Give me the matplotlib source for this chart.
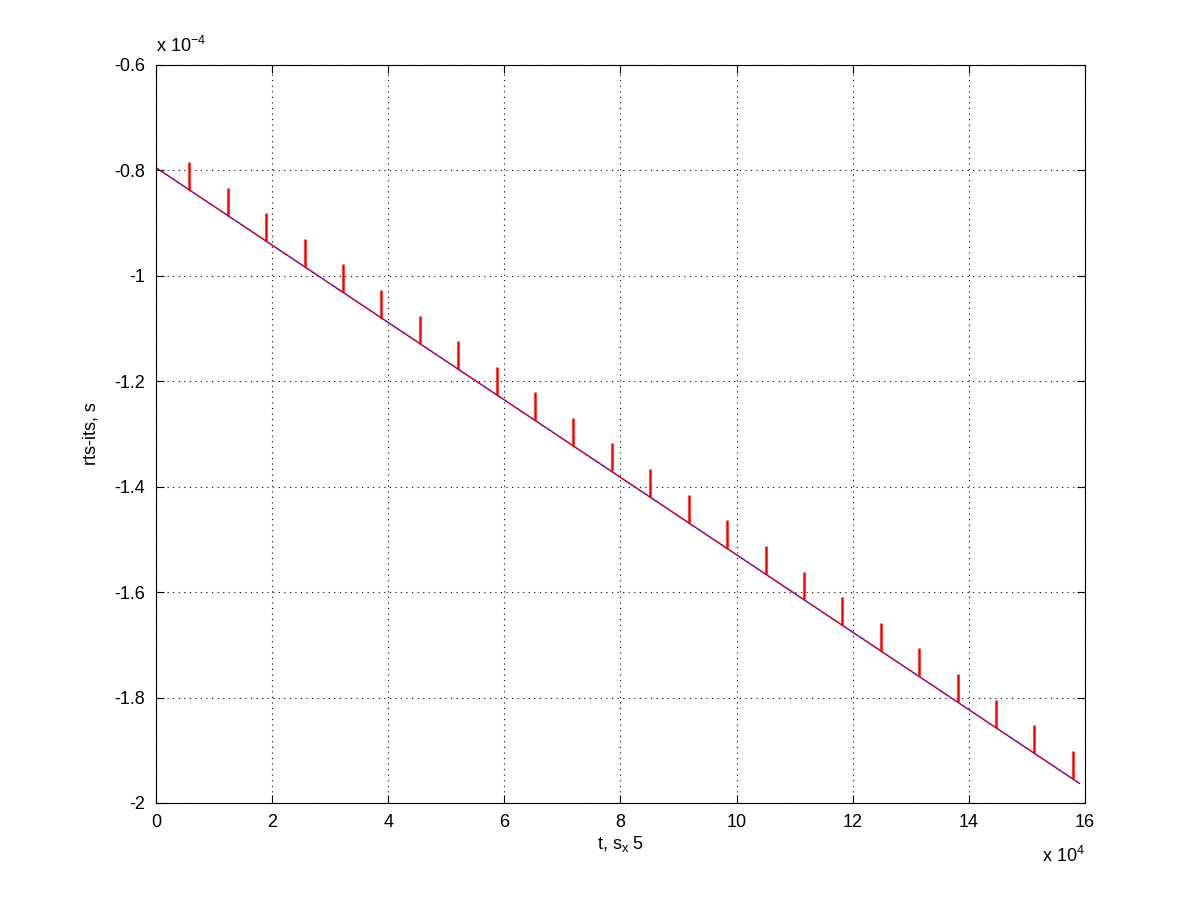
import matplotlib
matplotlib.use('Agg')
import matplotlib.pyplot as plt
import numpy as np

plt.rcParams['font.family'] = ['Liberation Sans', 'DejaVu Sans']

# time axis in units of 1e4, offsets in units of 1e-4 s
line_t = [0.0, 15.91]
line_val = [-0.795, -1.963]

spike_t = [0.574, 1.236, 1.897, 2.559, 3.221, 3.883, 4.544, 5.206, 5.868, 6.529,
           7.191, 7.853, 8.514, 9.176, 9.838, 10.50, 11.16, 11.82, 12.49, 13.15,
           13.81, 14.47, 15.13, 15.80]
spike_base = [-0.837, -0.886, -0.934, -0.983, -1.031, -1.080, -1.129, -1.177,
              -1.226, -1.274, -1.323, -1.371, -1.420, -1.469, -1.517, -1.566,
              -1.614, -1.663, -1.712, -1.760, -1.809, -1.857, -1.906, -1.955]
spike_top = [-0.784, -0.833, -0.881, -0.930, -0.978, -1.027, -1.076, -1.124,
             -1.173, -1.221, -1.270, -1.318, -1.367, -1.416, -1.464, -1.513,
             -1.561, -1.610, -1.659, -1.707, -1.756, -1.804, -1.853, -1.902]

xticks = np.arange(0, 17, 2)
yticks = [-2, -1.8, -1.6, -1.4, -1.2, -1, -0.8, -0.6]
ytick_labels = ['-2', '-1.8', '-1.6', '-1.4', '-1.2', '-1', '-0.8', '-0.6']

fig = plt.figure(figsize=(12, 9.01), dpi=100)
ax = fig.add_axes([0.13, 0.1088, 0.774, 0.8192])

ax.plot(line_t, line_val, color='blue', lw=0.9)
ax.plot(line_t, line_val, color='red', lw=0.9, dashes=(3, 1))
ax.vlines(spike_t, spike_base, spike_top, color='red', lw=1.8)

ax.set_xlim(0, 16)
ax.set_ylim(-2, -0.6)
ax.set_xticks(xticks)
ax.set_xticklabels([str(v) for v in xticks], fontsize=13)
ax.set_yticks(yticks)
ax.set_yticklabels(ytick_labels, fontsize=13)
ax.tick_params(direction='in', top=True, right=True, length=6, width=0.8, pad=8)
ax.grid(True, color='black', linestyle=(0, (1, 4)), lw=0.8)
for s in ax.spines.values():
    s.set_linewidth(0.8)

ax.set_xlabel(r't, s$_\mathregular{x}$ 5', fontsize=13, labelpad=2)
ax.set_ylabel('rts-its, s', fontsize=13, labelpad=10)

ax.text(0.0, 1.012, r'x 10$^{\mathregular{-4}}$', transform=ax.transAxes,
        fontsize=13, ha='left', va='bottom')
ax.text(1.0, -0.058, r'x 10$^{\mathregular{4}}$', transform=ax.transAxes,
        fontsize=13, ha='right', va='top')

fig.savefig('out.png', dpi=100)
